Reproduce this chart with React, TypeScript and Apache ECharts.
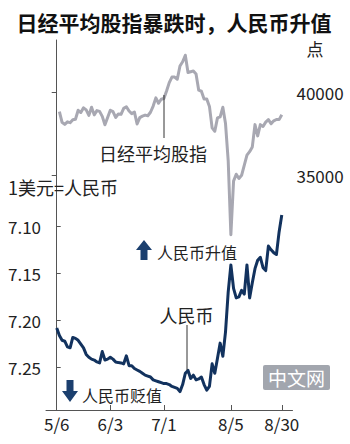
import React, { useEffect, useRef } from "react";
import * as echarts from "echarts";

const FONT = '"Noto Sans CJK SC", "Noto Sans", sans-serif';

const dates = [
  "5/6", "5/7", "5/8", "5/9", "5/10",
  "5/13", "5/14", "5/15", "5/16", "5/17",
  "5/20", "5/21", "5/22", "5/23", "5/24",
  "5/27", "5/28", "5/29", "5/30", "5/31",
  "6/3", "6/4", "6/5", "6/6", "6/7",
  "6/10", "6/11", "6/12", "6/13", "6/14",
  "6/17", "6/18", "6/19", "6/20", "6/21",
  "6/24", "6/25", "6/26", "6/27", "6/28",
  "7/1", "7/2", "7/3", "7/4", "7/5",
  "7/8", "7/9", "7/10", "7/11", "7/12",
  "7/15", "7/16", "7/17", "7/18", "7/19",
  "7/22", "7/23", "7/24", "7/25", "7/26",
  "7/29", "7/30", "7/31", "8/1", "8/2",
  "8/5", "8/6", "8/7", "8/8", "8/9",
  "8/12", "8/13", "8/14", "8/15", "8/16",
  "8/19", "8/20", "8/21", "8/22", "8/23",
  "8/26", "8/27", "8/28", "8/29", "8/30",
];

const nikkei: (number | null)[] = [
  null, 38835, 38202, 38073, 38229,
  38179, 38356, 38385, 38920, 38787,
  39069, 38946, 38617, 39103, 38646,
  38900, 38855, 38556, 38054, 38487,
  38923, 38837, 38490, 38703, 38683,
  39038, 39134, 38876, 38720, 38814,
  38102, 38482, 38570, 38633, 38596,
  38804, 39173, 39667, 39341, 39583,
  39631, 40074, 40580, 40913, 40912,
  40780, 41580, 41831, 42224, 41190,
  null, 41275, 41097, 40126, 40063,
  39599, 39594, 39154, 37869, 37667,
  38468, 38525, 39101, 38126, 35909,
  31458, 34675, 35089, 34831, 35025,
  null, 36232, 36442, 36726, 38062,
  37388, 38062, 37951, 38211, 38364,
  38110, 38288, 38371, 38362, 38647,
];

const cny: number[] = [
  7.208, 7.216, 7.221, 7.222, 7.228,
  7.229, 7.218, 7.219, 7.221, 7.225,
  7.229, 7.236, 7.239, 7.241, 7.242,
  7.244, 7.245, 7.233, 7.242, 7.241,
  7.239, 7.241, 7.244, 7.2447, 7.245,
  7.246, 7.2375, 7.248, 7.248, 7.251,
  7.2525, 7.254, 7.256, 7.258, 7.259,
  7.26, 7.263, 7.264, 7.265, 7.266,
  7.267, 7.267, 7.268, 7.27, 7.271,
  7.272, 7.2755, 7.268, 7.256, 7.253,
  7.2615, 7.258, 7.263, 7.262, 7.26,
  7.268, 7.274, 7.27, 7.246, 7.256,
  7.24, 7.224, 7.238, 7.212, 7.17,
  7.141, 7.166, 7.176, 7.175, 7.168,
  7.172, 7.141, 7.176, 7.16, 7.145,
  7.136, 7.133, 7.144, 7.147, 7.121,
  7.125, 7.128, 7.13, 7.106, 7.088,
];

const xTickLabels = ["5/6", "6/3", "7/1", "8/5", "8/30"];
const nikkeiTicks = [35000, 40000];
const cnyTicks = [7.1, 7.15, 7.2, 7.25];

export default function App() {
  const ref = useRef<HTMLDivElement>(null);

  useEffect(() => {
    document.body.style.margin = "0";
    const chart = echarts.init(ref.current!, null, { renderer: "svg" });
    const xTickIdx = xTickLabels.map((d) => dates.indexOf(d));
    const axisColor = "#555";
    const labelColor = "#222";

    const txt = (text: string, x: number, y: number, size: number, align = "center", extra: any = {}) => ({
      type: "text",
      x,
      y,
      style: {
        text,
        fontSize: size,
        fontFamily: FONT,
        fill: labelColor,
        align,
        verticalAlign: "middle",
        ...extra,
      },
      z: 100,
    });

    const option: any = {
      animation: false,
      textStyle: { fontFamily: FONT },
      grid: [
        { left: 46, right: 57.5, top: 40, height: 210 },
        { left: 46, right: 57.5, top: 198, height: 212 },
      ],
      xAxis: [
        { type: "value", gridIndex: 0, min: -4, max: 88, show: false },
        {
          type: "value",
          gridIndex: 1,
          min: -4,
          max: 88,
          axisLine: { show: true, onZero: false, lineStyle: { color: axisColor, width: 1 } },
          axisTick: { show: true, inside: true, length: 5, customValues: xTickIdx, lineStyle: { color: axisColor } },
          axisLabel: {
            customValues: xTickIdx,
            formatter: (v: number) => dates[Math.round(v)],
            margin: 5,
            fontSize: 17,
            color: labelColor,
            fontFamily: FONT,
          },
          splitLine: { show: false },
        },
      ],
      yAxis: [
        {
          type: "value",
          gridIndex: 0,
          position: "right",
          min: 30545,
          max: 43135,
          axisLine: { show: true, lineStyle: { color: axisColor, width: 1 } },
          axisTick: { show: true, inside: true, length: 5, customValues: nikkeiTicks, lineStyle: { color: axisColor } },
          axisLabel: {
            customValues: nikkeiTicks,
            formatter: (v: number) => String(Math.round(v)),
            margin: 4,
            fontSize: 17,
            color: labelColor,
            fontFamily: FONT,
          },
          splitLine: { show: false },
        },
        {
          type: "value",
          gridIndex: 1,
          inverse: true,
          min: 7.07,
          max: 7.295,
          axisLine: { show: true, lineStyle: { color: axisColor, width: 1 } },
          axisTick: { show: true, inside: true, length: 4, customValues: cnyTicks, lineStyle: { color: axisColor } },
          axisLabel: {
            customValues: cnyTicks,
            formatter: (v: number) => v.toFixed(2),
            margin: 5,
            fontSize: 17,
            color: labelColor,
            fontFamily: FONT,
          },
          splitLine: { show: false },
        },
      ],
      series: [
        {
          type: "line",
          xAxisIndex: 0,
          yAxisIndex: 0,
          data: nikkei.map((v, i) => [i, v]).filter((p) => p[1] !== null),
          showSymbol: false,
          lineStyle: { color: "#a8a8b2", width: 3, join: "round" },
          z: 2,
        },
        {
          type: "line",
          xAxisIndex: 1,
          yAxisIndex: 1,
          data: cny.map((v, i) => [i, v]),
          showSymbol: false,
          lineStyle: { color: "#12325e", width: 3, join: "round" },
          z: 3,
        },
      ],
      graphic: [
        txt("日经平均股指暴跌时，人民币升值", 174, 22, 21, "center", { fontWeight: "bold", fill: "#111" }),
        txt("点", 315, 48, 17),
        txt("1美元=人民币", 8, 187, 18, "left"),
        txt("日经平均股指", 153, 153, 18),
        txt("人民币", 186.5, 315, 18),
        txt("人民币升值", 157, 252, 16, "left"),
        txt("人民币贬值", 82, 395, 16, "left"),
        { type: "line", shape: { x1: 164, y1: 95, x2: 164, y2: 138 }, style: { stroke: "#333", lineWidth: 1 }, z: 100 },
        { type: "line", shape: { x1: 187, y1: 325, x2: 187, y2: 370 }, style: { stroke: "#333", lineWidth: 1 }, z: 100 },
        {
          type: "polygon",
          shape: { points: [[144, 240], [152, 250], [147.5, 250], [147.5, 260], [140.5, 260], [140.5, 250], [136, 250]] },
          style: { fill: "#1b3f6e" },
          z: 100,
        },
        {
          type: "polygon",
          shape: { points: [[66.5, 380], [73.5, 380], [73.5, 391], [78, 391], [70, 402], [62, 391], [66.5, 391]] },
          style: { fill: "#1b3f6e" },
          z: 100,
        },
        { type: "rect", shape: { x: 263, y: 365, width: 67, height: 25, r: 2 }, style: { fill: "#a2a6ae" }, z: 90 },
        txt("中文网", 296.5, 377.5, 19, "center", { fill: "#ffffff" }),
      ],
    };

    chart.setOption(option);
    return () => chart.dispose();
  }, []);

  return <div ref={ref} style={{ width: 350, height: 444 }} />;
}
